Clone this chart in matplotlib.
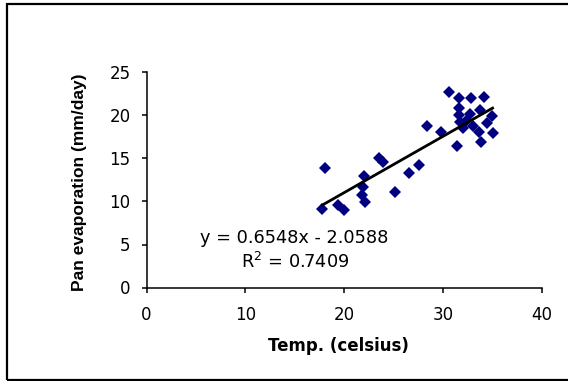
import matplotlib
matplotlib.use("Agg")
import matplotlib.pyplot as plt
from matplotlib.patches import Rectangle
import numpy as np

plt.rcParams['font.family'] = ['DejaVu Sans']

# data
temp = [17.8, 18.1, 19.4, 20.0, 21.8, 21.9, 22.0, 22.1, 23.5, 23.9,
        25.1, 26.5, 27.6, 28.4, 29.8, 30.6, 31.4, 31.6, 31.6, 31.6,
        31.7, 32.0, 32.3, 32.7, 32.8, 33.0, 33.6, 33.7, 33.8, 34.1,
        34.4, 34.9, 35.0]
evap = [9.15, 13.9, 9.65, 9.0, 10.7, 11.7, 13.0, 9.9, 15.1, 14.6,
        11.1, 13.3, 14.3, 18.8, 18.1, 22.7, 16.4, 22.0, 20.9, 20.0,
        19.2, 18.5, 19.4, 20.2, 22.0, 18.8, 18.1, 20.6, 16.9, 22.1,
        19.1, 19.9, 18.0]
slope = 0.6548
intercept = -2.0588
r2 = 0.7409

W, H = 568, 381
fig = plt.figure(figsize=(W / 100, H / 100), dpi=100)
ax = fig.add_axes([146.5 / W, 1 - 287.5 / H, 395.5 / W, 215 / H])

ax.plot(temp, evap, linestyle='none', marker='D', markersize=6.5,
        color='#000080', markeredgewidth=0)

xs = np.array([min(temp), max(temp)])
ax.plot(xs, slope * xs + intercept, color='black', linewidth=2)

ax.text(14.9, 5.76, f"y = {slope}x - {abs(intercept)}", ha='center', va='center', fontsize=12.8)
ax.text(15.0, 2.97, f"R$^2$ = {r2}", ha='center', va='center', fontsize=12.8)

ax.set_xlim(0, 40)
ax.set_ylim(0, 25)
ax.set_xticks([0, 10, 20, 30, 40])
ax.set_yticks([0, 5, 10, 15, 20, 25])
ax.spines['top'].set_visible(False)
ax.spines['right'].set_visible(False)
for s in ('left', 'bottom'):
    ax.spines[s].set_linewidth(1.1)
ax.tick_params(direction='out', length=3.5, labelsize=12, width=1.1)
ax.tick_params(axis='y', pad=8)
ax.tick_params(axis='x', pad=10)
ax.set_xlabel("Temp. (celsius)", fontsize=12, fontweight='bold')
ax.set_ylabel("Pan evaporation (mm/day)", fontsize=12.5, fontweight='bold',
              family='Liberation Sans')
# label centres as measured on the reference
ax.xaxis.set_label_coords((338.5 - 146.5) / 395.5, -(346 - 287.5) / 215)
ax.yaxis.set_label_coords(-(146.5 - 79.5) / 395.5, (287.5 - 182.5) / 215)
ax.xaxis.label.set_va('center')
ax.yaxis.label.set_va('center')

fig.patches.append(Rectangle((6.5 / W, 1 - 379.5 / H), 1.1, 375.5 / H,
                             transform=fig.transFigure, fill=False,
                             edgecolor='black', linewidth=1.6))

fig.savefig("out.png", dpi=100)
